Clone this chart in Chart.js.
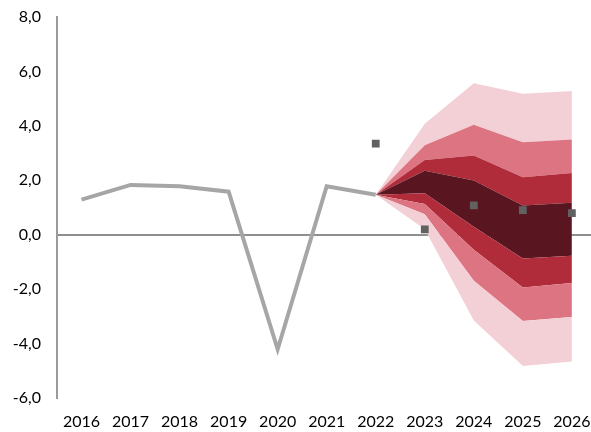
<!DOCTYPE html>
<html>
<head>
<meta charset="utf-8">
<script src="https://cdn.jsdelivr.net/npm/chart.js@4/dist/chart.umd.min.js"></script>
<style>
  html, body { margin: 0; padding: 0; background: #fff; overflow: hidden; }
  #wrap { width: 591px; height: 432px; overflow: hidden; }
</style>
</head>
<body>
<div id="wrap"><canvas id="fanChart" width="597" height="432"></canvas></div>
<script>
// leta
const years = [2016, 2017, 2018, 2019, 2020, 2021, 2022, 2023, 2024, 2025, 2026];
const yTicks = [-6, -4, -2, 0, 2, 4, 6, 8];

// dejanska rast (siva crta)
const actual = [1.29, 1.83, 1.78, 1.58, -4.21, 1.78, 1.47, null, null, null, null];

// napovedi (kvadratki)
const forecast = [null, null, null, null, null, null, 3.35, 0.2, 1.08, 0.9, 0.79];

// meje pasov pahljace (od spodaj navzgor)
const lower4 = [null, null, null, null, null, null, 1.47, 0.2, -3.15, -4.82, -4.66];
const lower3 = [null, null, null, null, null, null, 1.47, 0.75, -1.69, -3.17, -3.02];
const lower2 = [null, null, null, null, null, null, 1.47, 1.13, -0.55, -1.94, -1.77];
const lower1 = [null, null, null, null, null, null, 1.47, 1.52, 0.29, -0.87, -0.77];
const upper1 = [null, null, null, null, null, null, 1.47, 2.35, 1.99, 1.07, 1.17];
const upper2 = [null, null, null, null, null, null, 1.47, 2.75, 2.91, 2.11, 2.27];
const upper3 = [null, null, null, null, null, null, 1.47, 3.29, 4.04, 3.40, 3.50];
const upper4 = [null, null, null, null, null, null, 1.47, 4.08, 5.57, 5.18, 5.28];

const pts = arr => years.map((y, i) => ({ x: y, y: arr[i] }));

const light = '#f3d0d6';
const mid = '#dc7581';
const red = '#b12c3b';
const dark = '#5a1620';

function band(data, color, fill) {
    return {
        type: 'line',
        data: pts(data),
        borderWidth: 0,
        pointRadius: 0,
        backgroundColor: color,
        borderColor: color,
        fill: fill,
        tension: 0,
        spanGaps: false
    };
}

const ctx = document.getElementById('fanChart').getContext('2d');

new Chart(ctx, {
    type: 'line',
    data: {
        datasets: [
            {
                type: 'scatter',
                data: pts(forecast),
                pointStyle: 'rect',
                pointRadius: 5.5,
                pointBackgroundColor: '#616161',
                pointBorderWidth: 0,
                showLine: false
            },
            {
                type: 'line',
                data: pts(actual),
                borderColor: '#a6a6a6',
                borderWidth: 4,
                pointRadius: 0,
                fill: false,
                tension: 0,
                borderJoinStyle: 'miter'
            },
            band(lower4, light, false),
            band(lower3, light, '-1'),
            band(lower2, mid, '-1'),
            band(lower1, red, '-1'),
            band(upper1, dark, '-1'),
            band(upper2, red, '-1'),
            band(upper3, mid, '-1'),
            band(upper4, light, '-1')
        ]
    },
    options: {
        responsive: false,
        animation: false,
        layout: { padding: { top: 17, right: 0, left: 0, bottom: 0 } },
        plugins: {
            legend: { display: false },
            tooltip: { enabled: false }
        },
        scales: {
            x: {
                type: 'linear',
                min: 2015.5,
                max: 2026.4,
                afterFit: s => {
                    s.height = 34;
                    s.paddingLeft = 0;
                    s.paddingRight = 0;
                },
                grid: { display: false, drawTicks: false },
                border: { display: false },
                ticks: {
                    stepSize: 1,
                    includeBounds: false,
                    autoSkip: false,
                    maxRotation: 0,
                    padding: 14,
                    color: '#000',
                    font: { family: 'Lato', size: 16 },
                    callback: v => Number.isInteger(v) ? String(v) : ''
                }
            },
            y: {
                min: -6,
                max: 8,
                z: 1,
                afterFit: s => {
                    s.width = 57;
                    s.paddingTop = 0;
                    s.paddingBottom = 0;
                },
                afterBuildTicks: s => { s.ticks = yTicks.map(v => ({ value: v })); },
                grid: {
                    drawTicks: false,
                    color: c => c.tick && c.tick.value === 0 ? '#8f8f8f' : 'rgba(0,0,0,0)',
                    lineWidth: 2
                },
                border: { display: true, color: '#9a9a9a', width: 2 },
                ticks: {
                    padding: 16,
                    color: '#000',
                    font: { family: 'Lato', size: 16 },
                    callback: v => v.toFixed(1).replace('.', ',')
                }
            }
        }
    }
});
</script>
</body>
</html>
